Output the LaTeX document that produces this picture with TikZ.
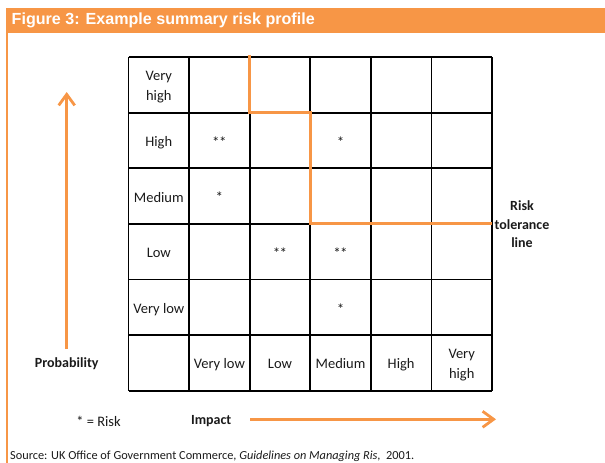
\documentclass[tikz,border=0pt]{standalone}
\usepackage{fontspec}
\setmainfont{Carlito}
\newfontfamily\headfont{Liberation Sans}
\usetikzlibrary{arrows.meta}
\definecolor{riskorange}{HTML}{F79646}
\definecolor{inktext}{HTML}{1A1A1A}

\begin{document}
\begin{tikzpicture}[x=1pt,y=-1pt,
  gridline/.style={line width=1.8pt, black},
  tolline/.style={riskorange, line width=2.8pt},
  axisarrow/.style={riskorange, line width=2.8pt,
    -{Straight Barb[length=11pt,width=16pt,line width=2.8pt]}},
  celltext/.style={inner sep=0pt, text=inktext, yshift=-2.5pt,
    font=\fontsize{14.5}{19.5}\selectfont, text height=10pt, text depth=3pt},
  celltwo/.style={inner sep=0pt, text=inktext, align=center, yshift=-2.5pt,
    font=\fontsize{14.5}{20.5}\selectfont},
  riskmark/.style={inner sep=0pt, text=inktext, yshift=-1.5pt,
    font=\fontsize{15}{19.5}\selectfont},
  boldlabel/.style={inner sep=0pt, text=inktext, align=center,
    font=\bfseries\fontsize{14}{18.3}\selectfont},
  plainlabel/.style={inner sep=0pt, text=inktext,
    font=\fontsize{14.5}{18}\selectfont},
]
\useasboundingbox (0,0) rectangle (605,463);

% title band and frame line
\fill[riskorange] (6,8) rectangle (605,33);
\node[anchor=base west, inner sep=0pt, text=white,
  font=\headfont\bfseries\fontsize{16.1}{19}\selectfont] (title) at (11.5,24.5)
  {Figure 3: Example summary risk profile};
\draw[riskorange, line width=1.5pt] (7,33) -- (7,463);

% grid geometry
\def\gx{128.5}\def\gy{57}\def\cw{60.583}\def\rh{55.6}

% grid lines
\foreach \c in {0,...,6}
  \draw[gridline] ({\gx+\c*\cw},\gy) -- ({\gx+\c*\cw},{\gy+6*\rh});
\foreach \r in {0,...,6}
  \draw[gridline] (\gx,{\gy+\r*\rh}) -- ({\gx+6*\cw},{\gy+\r*\rh});

% cell centres
\foreach \r in {0,...,5}
  \foreach \c in {0,...,5}
    \coordinate (c\r\c) at ({\gx+(\c+0.5)*\cw},{\gy+(\r+0.5)*\rh});

% probability labels
\node[celltwo]  (pvh) at (c00) {Very\\high};
\node[celltext] (ph)  at (c10) {High};
\node[celltext] (pm)  at (c20) {Medium};
\node[celltext] (pl)  at (c30) {Low};
\node[celltext] (pvl) at (c40) {Very low};

% impact labels
\node[celltext] (ivl) at (c51) {Very low};
\node[celltext] (il)  at (c52) {Low};
\node[celltext] (im)  at (c53) {Medium};
\node[celltext] (ih)  at (c54) {High};
\node[celltwo]  (ivh) at (c55) {Very\\high};

% risks
\node[riskmark] (r11) at (c11) {*\kern-0.6pt*};
\node[riskmark] (r13) at (c13) {*};
\node[riskmark] (r21) at (c21) {*};
\node[riskmark] (r32) at (c32) {*\kern-0.6pt*};
\node[riskmark] (r33) at (c33) {*\kern-0.6pt*};
\node[riskmark] (r43) at (c43) {*};

% risk tolerance line
\draw[tolline] ({\gx+2*\cw},{\gy-2}) -- ({\gx+2*\cw},{\gy+\rh})
  -- ({\gx+3*\cw},{\gy+\rh}) -- ({\gx+3*\cw},{\gy+3*\rh})
  -- ({\gx+6*\cw},{\gy+3*\rh});
\node[boldlabel] (tol) at (522,224.3) {Risk\\tolerance\\line};

% axes
\coordinate (probTail) at (66.7,349);
\coordinate (probHead) at (66.7,92);
\draw[axisarrow] (probTail) -- (probHead);
\node[boldlabel] (prob) at (66.7,364) {Probability};

\coordinate (impTail) at (250,419.3);
\coordinate (impHead) at (496,419.3);
\draw[axisarrow] (impTail) -- (impHead);
\node[boldlabel] (imp) at (211.2,421.5) {Impact};

\node[plainlabel] (key) at (98.5,421) {* = Risk};

% source line
\node[anchor=base west, inner sep=0pt, text=inktext,
  font=\fontsize{12.3}{14}\selectfont] (src) at (10,459.6)
  {Source: UK Office of Government Commerce, \textit{Guidelines on Managing Ris,}\ \ 2001.};
\end{tikzpicture}
\end{document}
